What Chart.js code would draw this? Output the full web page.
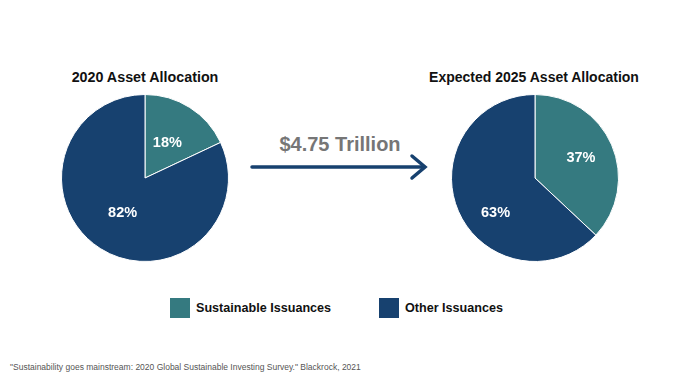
<!DOCTYPE html>
<html>
<head>
<meta charset="utf-8">
<script src="https://cdn.jsdelivr.net/npm/chart.js@4/dist/chart.umd.min.js"></script>
<style>
  body { margin: 0; background: #fff; font-family: "Liberation Sans", Arial, sans-serif; }
  #page { position: relative; width: 680px; height: 383px; overflow: hidden; }
  .title { position: absolute; top: 69px; font-weight: bold; font-size: 14.3px; color: #111; text-align: center; white-space: nowrap; }
  .pie { position: absolute; width: 168px; height: 168px; }
  #amount { position: absolute; left: 255px; top: 133px; width: 170px; text-align: center; font-weight: bold; font-size: 20px; color: #767676; }
  .legend { position: absolute; top: 298px; font-weight: bold; font-size: 12.6px; color: #111; display: flex; align-items: center; white-space: nowrap; }
  .legend span.box { display: inline-block; width: 20px; height: 20px; margin-right: 6px; }
  #note { position: absolute; left: 10px; top: 362px; font-size: 8.5px; color: #555; white-space: nowrap; }
</style>
</head>
<body>
<div id="page">
  <div class="title" style="left:45px;width:200px;">2020 Asset Allocation</div>
  <div class="title" style="left:404px;width:260px;font-size:14px;">Expected 2025 Asset Allocation</div>
  <div class="pie" style="left:61px;top:94px;"><canvas id="pie2020"></canvas></div>
  <div class="pie" style="left:451px;top:94px;"><canvas id="pie2025"></canvas></div>
  <div id="amount">$4.75 Trillion</div>
  <svg style="position:absolute;left:248px;top:152px;" width="185" height="30">
    <line x1="4" y1="15" x2="176" y2="15" stroke="#17416f" stroke-width="3.5" stroke-linecap="round"/>
    <polyline points="164,4 177,15 164,26" fill="none" stroke="#17416f" stroke-width="3.5" stroke-linecap="round" stroke-linejoin="miter"/>
  </svg>
  <div class="legend" style="left:170px;"><span class="box" style="background:#357a80"></span>Sustainable Issuances</div>
  <div class="legend" style="left:379px;"><span class="box" style="background:#17416f"></span>Other Issuances</div>
  <div id="note">"Sustainability goes mainstream: 2020 Global Sustainable Investing Survey." Blackrock, 2021</div>
</div>
<script>
const categories = ['Sustainable Issuances', 'Other Issuances'];
const values2020 = [18, 82];
const values2025 = [37, 63];
const colors = ['#357a80', '#17416f'];

// draws the percent inside each slice
const sliceLabels = {
  id: 'sliceLabels',
  afterDatasetsDraw(chart, args, opts) {
    const ctx = chart.ctx;
    const meta = chart.getDatasetMeta(0);
    ctx.save();
    ctx.fillStyle = '#fff';
    ctx.font = 'bold 14.5px "Liberation Sans", Arial, sans-serif';
    ctx.textAlign = 'center';
    ctx.textBaseline = 'middle';
    meta.data.forEach((arc, i) => {
      const p = arc.getProps(['x', 'y', 'startAngle', 'endAngle', 'outerRadius'], true);
      const mid = (p.startAngle + p.endAngle) / 2 + (opts.shift[i] || 0) * Math.PI / 180;
      const r = p.outerRadius * opts.factor[i];
      ctx.fillText(chart.data.datasets[0].data[i] + '%', p.x + Math.cos(mid) * r, p.y + Math.sin(mid) * r);
    });
    ctx.restore();
  }
};

function makePie(id, values, factor, shift) {
  new Chart(document.getElementById(id), {
    type: 'pie',
    data: {
      labels: categories,
      datasets: [{
        data: values,
        backgroundColor: colors,
        borderColor: '#ffffff',
        borderWidth: 1
      }]
    },
    options: {
      responsive: true,
      maintainAspectRatio: false,
      animation: false,
      layout: { padding: 0 },
      plugins: {
        legend: { display: false },
        tooltip: { enabled: false },
        sliceLabels: { factor: factor, shift: shift }
      }
    },
    plugins: [sliceLabels]
  });
}

makePie('pie2020', values2020, [0.5, 0.5], [0, 0]);
makePie('pie2025', values2025, [0.6, 0.63], [0, -18]);
</script>
</body>
</html>
